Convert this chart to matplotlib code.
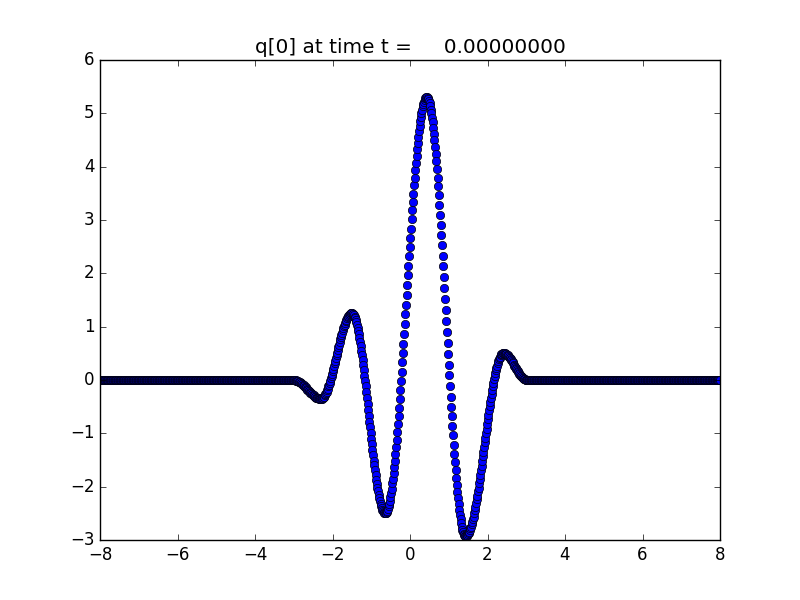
import numpy as np
import matplotlib
matplotlib.use("Agg")
from matplotlib import pyplot as plt

plt.style.use("classic")

# grid: 1000 cells on [-8, 8], cell centres
n_cells = 1000
x = -8 + 16.0 / n_cells * (np.arange(n_cells) + 0.5)

# q[0] values, from x = -3.0 onwards (zero outside)
n_left = 312
q_core = [
    # -3.0 .. -2.31
    0, 0, 0, 0, -0.01, -0.01, -0.02, -0.02, -0.03, -0.04,
    -0.04, -0.05, -0.06, -0.07, -0.08, -0.09, -0.10, -0.12, -0.13, -0.14,
    -0.15, -0.16, -0.18, -0.19, -0.20, -0.21, -0.23, -0.24, -0.25, -0.26,
    -0.27, -0.28, -0.29, -0.30, -0.31, -0.32, -0.33, -0.33, -0.34, -0.34,
    -0.34, -0.35, -0.35, -0.35,
    # -2.30 .. -1.51
    -0.35, -0.35, -0.34, -0.33, -0.32, -0.31, -0.29, -0.27, -0.24, -0.22,
    -0.19, -0.16, -0.12, -0.09, -0.05, -0.01, 0.03, 0.08, 0.12, 0.17,
    0.21, 0.26, 0.31, 0.36, 0.41, 0.46, 0.51, 0.56, 0.61, 0.66,
    0.71, 0.76, 0.80, 0.85, 0.89, 0.93, 0.97, 1.01, 1.04, 1.07,
    1.10, 1.13, 1.16, 1.18, 1.20, 1.21, 1.23, 1.24, 1.25, 1.25,
    # -1.50 .. -0.65
    1.25, 1.24, 1.23, 1.22, 1.19, 1.16, 1.13, 1.08, 1.04, 0.98,
    0.92, 0.86, 0.79, 0.72, 0.64, 0.55, 0.47, 0.37, 0.28, 0.18,
    0.08, -0.02, -0.12, -0.23, -0.34, -0.45, -0.56, -0.67, -0.78, -0.89,
    -0.99, -1.10, -1.20, -1.31, -1.41, -1.51, -1.60, -1.69, -1.78, -1.87,
    -1.95, -2.02, -2.09, -2.16, -2.22, -2.27, -2.32, -2.37, -2.40, -2.44,
    -2.46, -2.48, -2.49, -2.50,
    # -0.63 .. 0.42
    -2.50, -2.49, -2.47, -2.45, -2.41, -2.37, -2.32, -2.26, -2.19, -2.12,
    -2.04, -1.94, -1.85, -1.74, -1.63, -1.51, -1.39, -1.25, -1.12, -0.97,
    -0.83, -0.67, -0.52, -0.36, -0.19, -0.02, 0.15, 0.33, 0.50, 0.68,
    0.86, 1.05, 1.23, 1.41, 1.59, 1.78, 1.96, 2.14, 2.32, 2.50,
    2.67, 2.84, 3.01, 3.18, 3.34, 3.49, 3.65, 3.79, 3.93, 4.07,
    4.20, 4.33, 4.44, 4.56, 4.66, 4.76, 4.85, 4.93, 5.00, 5.07,
    5.13, 5.18, 5.22, 5.25, 5.28, 5.29, 5.30,
    # 0.44 .. 1.42
    5.30, 5.29, 5.26, 5.23, 5.19, 5.14, 5.07, 5.00, 4.92, 4.83,
    4.73, 4.62, 4.50, 4.37, 4.24, 4.10, 3.95, 3.79, 3.63, 3.46,
    3.28, 3.10, 2.91, 2.72, 2.53, 2.33, 2.13, 1.93, 1.73, 1.52,
    1.31, 1.11, 0.90, 0.70, 0.49, 0.29, 0.09, -0.11, -0.31, -0.50,
    -0.68, -0.87, -1.04, -1.21, -1.38, -1.54, -1.69, -1.83, -1.97, -2.10,
    -2.22, -2.33, -2.43, -2.53, -2.61, -2.69, -2.75, -2.81, -2.85, -2.89,
    -2.91, -2.93,
    # 1.43 .. 2.41
    -2.93, -2.93, -2.92, -2.91, -2.89, -2.87, -2.85, -2.82, -2.78, -2.75,
    -2.70, -2.66, -2.61, -2.56, -2.50, -2.44, -2.38, -2.31, -2.24, -2.17,
    -2.09, -2.02, -1.94, -1.86, -1.78, -1.69, -1.61, -1.52, -1.43, -1.35,
    -1.26, -1.17, -1.08, -1.00, -0.91, -0.82, -0.74, -0.65, -0.57, -0.49,
    -0.41, -0.34, -0.26, -0.19, -0.12, -0.05, 0.01, 0.07, 0.13, 0.18,
    0.23, 0.27, 0.32, 0.35, 0.39, 0.42, 0.44, 0.46, 0.48, 0.49,
    0.50, 0.50,
    # 2.42 .. 3.02
    0.50, 0.50, 0.49, 0.49, 0.48, 0.47, 0.46, 0.45, 0.44, 0.42,
    0.41, 0.39, 0.37, 0.35, 0.33, 0.31, 0.29, 0.27, 0.25, 0.23,
    0.21, 0.19, 0.17, 0.15, 0.13, 0.12, 0.10, 0.08, 0.07, 0.06,
    0.04, 0.03, 0.02, 0.02, 0.01, 0, 0, 0,
]
n_right = n_cells - n_left - len(q_core)
q = np.concatenate([np.zeros(n_left), q_core, np.zeros(n_right)])

title_text = "q[0] at time t =     0.00000000"

fig = plt.figure(figsize=(8, 6), dpi=100)
ax = fig.add_subplot(111)
ax.plot(x, q, "bo", markersize=6, markeredgecolor="k", markeredgewidth=0.5)
ax.set_xlim(-8, 8)
ax.set_ylim(-3, 6)
ax.set_title(title_text)

fig.savefig("out.png", dpi=100)
